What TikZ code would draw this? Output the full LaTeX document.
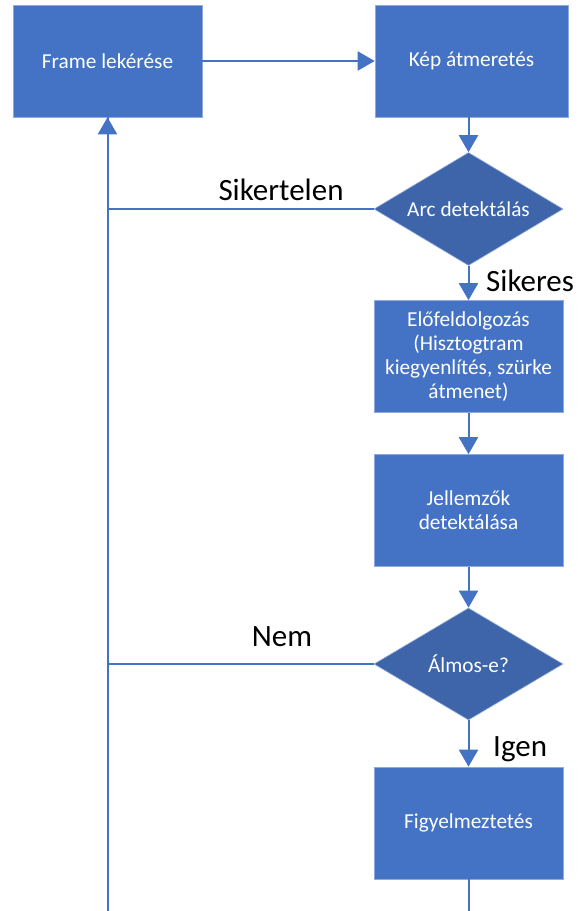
\documentclass[tikz,border=0pt]{standalone}
\usepackage{fontspec}
\setmainfont{Carlito}
\usetikzlibrary{arrows.meta,shapes.geometric}
\definecolor{boxblue}{HTML}{4472C4}
\definecolor{diablue}{HTML}{3E64AA}
\definecolor{edgeblue}{HTML}{8FAADC}
\definecolor{lineblue}{HTML}{4472C4}
\tikzset{
  procbox/.style={rectangle, fill=boxblue, draw=edgeblue, line width=0.6pt,
    minimum width=189pt, minimum height=112pt, inner sep=0pt,
    text=white, font=\fontsize{21.3}{24}\selectfont, align=center},
  decbox/.style={diamond, fill=diablue, draw=edgeblue, line width=0.6pt,
    shape aspect=1.67, minimum width=189pt, minimum height=113pt, inner sep=0pt,
    text=white, font=\fontsize{21.3}{24}\selectfont, align=center},
  conn/.style={draw=lineblue, line width=2pt},
  arr/.style={conn, -{Triangle[width=19pt,length=17pt]}},
  lbl/.style={font=\fontsize{31}{34}\selectfont, text=black, inner sep=0pt}
}
\begin{document}
\begin{tikzpicture}[x=1pt,y=-1pt]
\useasboundingbox (0,0) rectangle (579,911);
\clip (0,0) rectangle (579,911);
\fill[white] (0,0) rectangle (579,911);

\node[procbox] (frame) at (107.5,61) {Frame lekérése};
\node[procbox, minimum width=193pt] (kep) at (471.5,61) {Kép átmeretés};
\node[decbox] (arc) at (468.5,209) {Arc detektálás};
\node[procbox] (elo) at (468.5,356.5) {Előfeldolgozás\\(Hisztogtram\\kiegyenlítés, szürke\\átmenet)};
\node[procbox] (jell) at (468.5,510.5) {Jellemzők\\detektálása};
\node[decbox, minimum height=112pt] (almos) at (468.5,664) {Álmos-e?};
\node[procbox] (figy) at (468.5,823) {Figyelmeztetés};

\draw[arr] (frame.east) -- (kep.west);
\draw[arr] (kep.south -| arc.north) -- (arc.north);
\draw[arr] (arc.south) -- (elo.north);
\draw[arr] (elo.south) -- (jell.north);
\draw[arr] (jell.south) -- (almos.north);
\draw[arr] (almos.south) -- (figy.north);
\draw[conn] (arc.west) -| (frame.south);
\draw[conn] (almos.west) -| (frame.south);
\draw[arr] (figy.south) -- ++(0,60) -| (frame.south);

\node[lbl, anchor=base] (sikertelen) at (281,200) {Sikertelen};
\node[lbl, anchor=base west] (sikeres) at (486,291.7) {Sikeres};
\node[lbl, anchor=base] (nem) at (282,646.7) {Nem};
\node[lbl, anchor=base west] (igen) at (493,756) {Igen};
\end{tikzpicture}
\end{document}
